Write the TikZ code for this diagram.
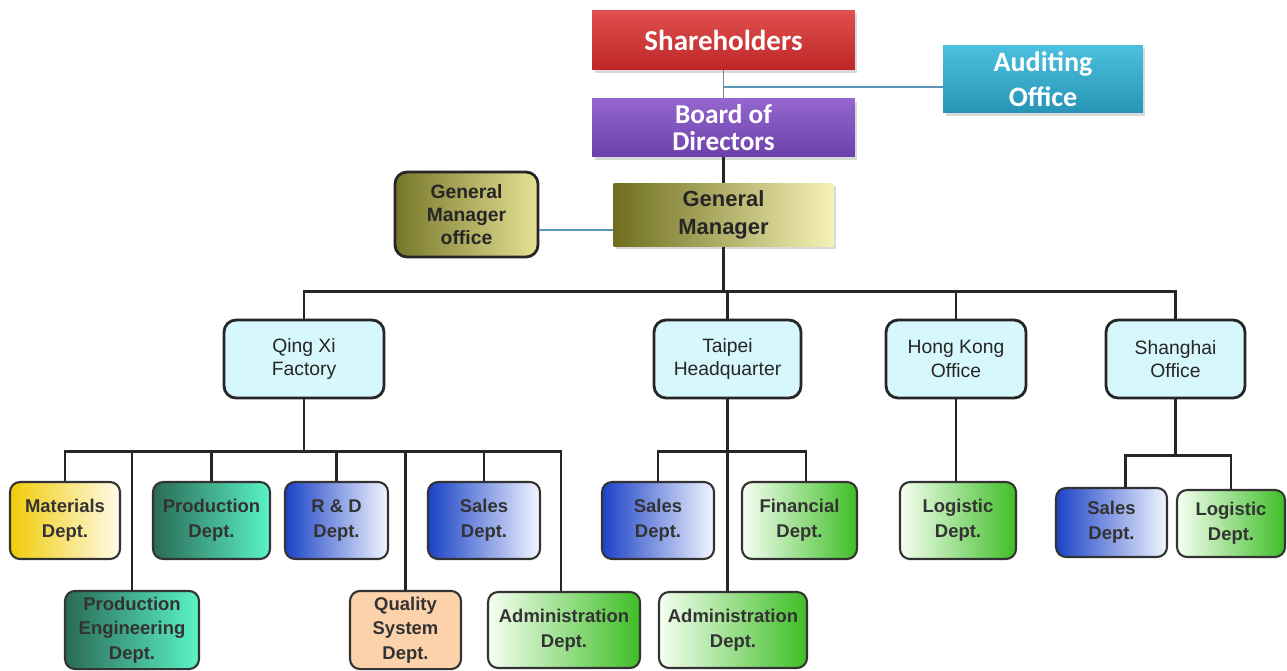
\documentclass[tikz,border=0pt]{standalone}
\usepackage{fontspec}
\setmainfont{Liberation Sans}
\newfontfamily\calibri{Carlito}
\usetikzlibrary{positioning,calc,shadows}
\definecolor{shareA}{HTML}{E05050}
\definecolor{shareB}{HTML}{BE2626}
\definecolor{boardA}{HTML}{9466CE}
\definecolor{boardB}{HTML}{6C42AA}
\definecolor{auditA}{HTML}{4CC0DE}
\definecolor{auditB}{HTML}{2794B6}
\definecolor{gmA}{HTML}{6E6E1E}
\definecolor{gmB}{HTML}{F6F2B6}
\definecolor{officeA}{HTML}{76762A}
\definecolor{officeB}{HTML}{E6E294}
\definecolor{branchfill}{HTML}{D6F7FB}
\definecolor{yellowA}{HTML}{F0CC08}
\definecolor{yellowB}{HTML}{FFFBEA}
\definecolor{tealA}{HTML}{2A6A56}
\definecolor{tealB}{HTML}{5AF4C6}
\definecolor{blueA}{HTML}{1A42C6}
\definecolor{blueB}{HTML}{F2F5FF}
\definecolor{greenA}{HTML}{F6FFF2}
\definecolor{greenB}{HTML}{3EBE26}
\definecolor{peach}{HTML}{FCD2AA}
\definecolor{linkblue}{HTML}{5A94B8}
\definecolor{linkgrey}{HTML}{6F859C}
\tikzset{
  head/.style={rectangle, text=white, align=center,
    font=\calibri\bfseries\fontsize{16.5}{15}\selectfont,
    drop shadow={shadow xshift=0.5mm, shadow yshift=-0.6mm, opacity=0.3}},
  branch/.style={rectangle, rounded corners=2.4mm, draw=black!85, line width=1.6pt,
    fill=branchfill, minimum height=1.56cm, align=center, text=black!85,
    font=\fontsize{11}{13.5}\selectfont},
  dept/.style={rectangle, rounded corners=2mm, draw=black!80, line width=1.2pt,
    minimum height=1.54cm, align=center, text=black!80,
    font=\bfseries\fontsize{10.5}{14}\selectfont},
  yellowdept/.style={dept, left color=yellowA, right color=yellowB},
  tealdept/.style={dept, left color=tealA, right color=tealB},
  bluedept/.style={dept, left color=blueA, right color=blueB},
  greendept/.style={dept, left color=greenA, right color=greenB},
  peachdept/.style={dept, fill=peach},
  connect/.style={line width=1.4pt, black!85},
  link/.style={line width=1.1pt, linkblue}
}

\begin{document}
\begin{tikzpicture}[x=0.02cm, y=-0.02cm]
      \useasboundingbox (0,0) rectangle (1287,670);
      \node[head, top color=shareA, bottom color=shareB, minimum width=5.26cm, minimum height=1.2cm]
           (Share) at (723.5,40) {Shareholders};
      \node[head, top color=boardA, bottom color=boardB, minimum width=5.26cm, minimum height=1.16cm,
           font=\calibri\bfseries\fontsize{15.5}{15}\selectfont, inner sep=1pt,
           below=0.56cm of Share] (Board) {Board of\\Directors};
      \node[head, top color=auditA, bottom color=auditB, minimum width=4cm, minimum height=1.36cm,
           font=\calibri\bfseries\fontsize{16}{20}\selectfont] (Audit) at (1043,79) {Auditing\\Office};
      \node[head, left color=gmA, right color=gmB, text=black!85, minimum width=4.4cm, minimum height=1.26cm,
           font=\bfseries\fontsize{12.5}{16}\selectfont, below=0.52cm of Board] (GM) {General\\Manager};
      \node[branch, left color=officeA, right color=officeB, minimum width=2.86cm, minimum height=1.7cm,
           font=\bfseries\fontsize{11}{13}\selectfont] (GMoff) at (466.5,214.5) {General\\Manager\\office};

      \node[branch, minimum width=3.2cm] (Qing) at (304,359) {Qing Xi\\Factory};
      \node[branch, minimum width=2.94cm] (Taipei) at (727.5,359) {Taipei\\Headquarter};
      \node[branch, minimum width=2.8cm] (HK) at (956,359) {Hong Kong\\Office};
      \node[branch, minimum width=2.78cm] (SH) at (1175.5,359) {Shanghai\\Office};

      \node[yellowdept, minimum width=2.2cm] (Mat) at (65,520.5) {Materials\\Dept.};
      \node[tealdept, minimum width=2.34cm] (Prod) at (211.5,520.5) {Production\\Dept.};
      \node[bluedept, minimum width=2.06cm] (RD) at (336.5,520.5) {R \& D\\Dept.};
      \node[bluedept, minimum width=2.24cm] (SalesQ) at (484,520.5) {Sales\\Dept.};
      \node[bluedept, minimum width=2.24cm] (SalesT) at (658,520.5) {Sales\\Dept.};
      \node[greendept, minimum width=2.3cm] (Fin) at (799.5,520.5) {Financial\\Dept.};
      \node[greendept, minimum width=2.32cm] (LogHK) at (958,520.5) {Logistic\\Dept.};
      \node[bluedept, minimum width=2.22cm, minimum height=1.38cm] (SalesS) at (1111.5,522.5) {Sales\\Dept.};
      \node[greendept, minimum width=2.16cm, minimum height=1.34cm] (LogS) at (1231,523.5) {Logistic\\Dept.};

      \node[tealdept, minimum width=2.68cm, minimum height=1.52cm] (ProdEng) at (132,630) {Production\\Engineering\\Dept.};
      \node[peachdept, minimum width=2.22cm, minimum height=1.52cm] (Qual) at (405.5,630) {Quality\\System\\Dept.};
      \node[greendept, minimum width=3.04cm, minimum height=1.52cm] (AdminQ) at (564,630) {Administration\\Dept.};
      \node[greendept, minimum width=2.96cm, minimum height=1.52cm] (AdminT) at (733,630) {Administration\\Dept.};

      % top of the chart
      \draw[link, linkgrey] (Share.south) -- (Share.south |- Board.north);
      \draw[link] ($(Share.south)!0.6!(Share.south |- Board.north)$) coordinate (a) -- (a -| Audit.west);
      \draw[connect] (Board.south) -- (Board.south |- GM.north);
      \draw[link] (GMoff.-12) -- (GMoff.-12 -| GM.west);

      % branches
      \coordinate (bus) at ($(GM.south)+(0,45)$);
      \draw[connect] (GM.south) -- (GM.south |- bus);
      \draw[connect] (Qing.north) |- (SH.north |- bus) -- (SH.north);
      \foreach \b in {Taipei,HK}
        \draw[connect] (\b.north) -- (\b.north |- bus);

      % departments
      \coordinate (qbus) at ($(Qing.south)+(0,52)$);
      \draw[connect] (Qing.south) -- (qbus);
      \draw[connect] (Mat.north) |- ([xshift=-0.06cm]AdminQ.north |- qbus) -- ([xshift=-0.06cm]AdminQ.north);
      \foreach \d in {ProdEng,Prod,RD,Qual,SalesQ}
        \draw[connect] (\d.north) -- (\d.north |- qbus);

      \coordinate (tbus) at ($(Taipei.south)+(0,52)$);
      \draw[connect] (SalesT.north) |- ([xshift=0.13cm]Fin.north |- tbus) -- ([xshift=0.13cm]Fin.north);
      \draw[connect] (Taipei.south) -- (Taipei.south |- AdminT.north);

      \draw[connect] (HK.south) -- (HK.south |- LogHK.north);

      \coordinate (sbus) at ($(SH.south)+(0,56)$);
      \draw[connect] (SH.south) -- (sbus);
      \draw[connect] ([xshift=0.28cm]SalesS.north) |- (LogS.north |- sbus) -- (LogS.north);
\end{tikzpicture}
\end{document}
